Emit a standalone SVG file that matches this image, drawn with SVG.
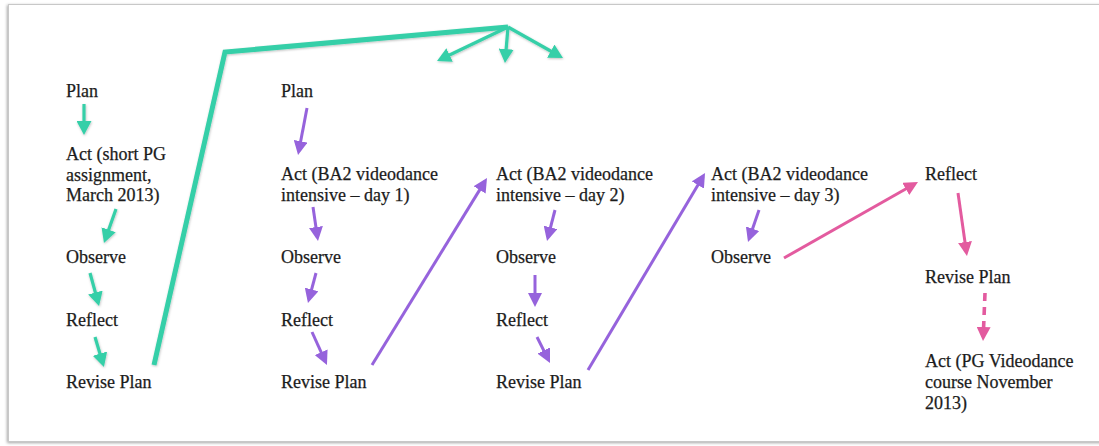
<svg xmlns="http://www.w3.org/2000/svg" width="1099" height="446" viewBox="0 0 1099 446">
<style>
text{font-family:"Liberation Serif","Times New Roman",serif;font-size:18px;fill:#1c1c1c;stroke:#1c1c1c;stroke-width:0.25}
.t{stroke:#36cfa8;fill:none;stroke-width:3.2}
.p{stroke:#9663dc;fill:none;stroke-width:3}
.k{stroke:#e35b9f;fill:none;stroke-width:3}
</style>
<defs>
<filter id="sh" x="-5%" y="-5%" width="110%" height="110%"><feDropShadow dx="-1" dy="1" stdDeviation="1.5" flood-color="#000" flood-opacity="0.35"/></filter>
<filter id="ls" x="-10%" y="-10%" width="120%" height="120%"><feDropShadow dx="0.5" dy="1" stdDeviation="0.8" flood-color="#000" flood-opacity="0.25"/></filter>
<marker id="at" viewBox="0 0 14 15" markerWidth="14" markerHeight="15" refX="10" refY="7.5" orient="auto" markerUnits="userSpaceOnUse"><path d="M0,0 L14,7.5 L0,15 z" fill="#36cfa8"/></marker>
<marker id="ap" viewBox="0 0 14 14" markerWidth="14" markerHeight="14" refX="10" refY="7" orient="auto" markerUnits="userSpaceOnUse"><path d="M0,0 L14,7 L0,14 z" fill="#9663dc"/></marker>
<marker id="ak" viewBox="0 0 14 14" markerWidth="14" markerHeight="14" refX="10" refY="7" orient="auto" markerUnits="userSpaceOnUse"><path d="M0,0 L14,7 L0,14 z" fill="#e35b9f"/></marker>
</defs>
<rect x="0" y="0" width="1099" height="446" fill="#fff"/>
<rect x="8.5" y="4.5" width="1100" height="437" fill="#fff" stroke="#c8c8c8" stroke-width="1" filter="url(#sh)"/>

<g id="connectors">
<g filter="url(#ls)">
<line class="t" x1="84" y1="104" x2="84" y2="131" marker-end="url(#at)"/>
<line class="t" x1="116" y1="209" x2="105.3" y2="239.2" marker-end="url(#at)"/>
<line class="t" x1="90" y1="273" x2="98" y2="302.2" marker-end="url(#at)"/>
<line class="t" x1="95" y1="337" x2="102.8" y2="363.2" marker-end="url(#at)"/>
<polyline class="t" style="stroke-width:5" points="154,365 225,52 508,27"/>
<line class="t" x1="508" y1="27" x2="440.6" y2="59.3" marker-end="url(#at)"/>
<line class="t" x1="508" y1="27" x2="505.3" y2="59" marker-end="url(#at)"/>
<line class="t" x1="508" y1="27" x2="559.5" y2="56" marker-end="url(#at)"/>
</g>
<line class="p" x1="307" y1="108" x2="298.8" y2="151.1" marker-end="url(#ap)"/>
<line class="p" x1="313" y1="207" x2="317.4" y2="237" marker-end="url(#ap)"/>
<line class="p" x1="316" y1="273" x2="309" y2="299.1" marker-end="url(#ap)"/>
<line class="p" x1="312" y1="332" x2="325.3" y2="361.4" marker-end="url(#ap)"/>
<line class="p" x1="372" y1="365" x2="484.9" y2="181.4" marker-end="url(#ap)"/>
<line class="p" x1="555" y1="210" x2="548" y2="237.1" marker-end="url(#ap)"/>
<line class="p" x1="535" y1="275" x2="535" y2="303" marker-end="url(#ap)"/>
<line class="p" x1="537" y1="337" x2="548.2" y2="359.4" marker-end="url(#ap)"/>
<line class="p" x1="588" y1="370" x2="703" y2="176.4" marker-end="url(#ap)"/>
<line class="p" x1="759" y1="210" x2="749.3" y2="238.2" marker-end="url(#ap)"/>
<line class="k" x1="784" y1="258" x2="914.5" y2="184" marker-end="url(#ak)"/>
<line class="k" x1="958" y1="193" x2="966.4" y2="252" marker-end="url(#ak)"/>
<line class="k" style="stroke-width:3.6" x1="985" y1="293" x2="983.2" y2="337" stroke-dasharray="8 6" marker-end="url(#ak)"/>
</g>

<g id="c1-plan"><text x="66" y="97">Plan</text></g>
<g id="c1-act"><text x="66" y="160">Act (short PG</text><text x="66" y="181">assignment,</text><text x="66" y="201">March 2013)</text></g>
<g id="c1-observe"><text x="66" y="263">Observe</text></g>
<g id="c1-reflect"><text x="66" y="326">Reflect</text></g>
<g id="c1-revise"><text x="66" y="388">Revise Plan</text></g>

<g id="c2-plan"><text x="281" y="97">Plan</text></g>
<g id="c2-act"><text x="281" y="180">Act (BA2 videodance</text><text x="281" y="201">intensive – day 1)</text></g>
<g id="c2-observe"><text x="281" y="263">Observe</text></g>
<g id="c2-reflect"><text x="281" y="326">Reflect</text></g>
<g id="c2-revise"><text x="281" y="388">Revise Plan</text></g>

<g id="c3-act"><text x="496" y="180">Act (BA2 videodance</text><text x="496" y="201">intensive – day 2)</text></g>
<g id="c3-observe"><text x="496" y="263">Observe</text></g>
<g id="c3-reflect"><text x="496" y="326">Reflect</text></g>
<g id="c3-revise"><text x="496" y="388">Revise Plan</text></g>

<g id="c4-act"><text x="711" y="180">Act (BA2 videodance</text><text x="711" y="201">intensive – day 3)</text></g>
<g id="c4-observe"><text x="711" y="263">Observe</text></g>

<g id="c5-reflect"><text x="925" y="180">Reflect</text></g>
<g id="c5-revise"><text x="925" y="283">Revise Plan</text></g>
<g id="c5-act"><text x="925" y="367">Act (PG Videodance</text><text x="925" y="388">course November</text><text x="925" y="409">2013)</text></g>
</svg>
